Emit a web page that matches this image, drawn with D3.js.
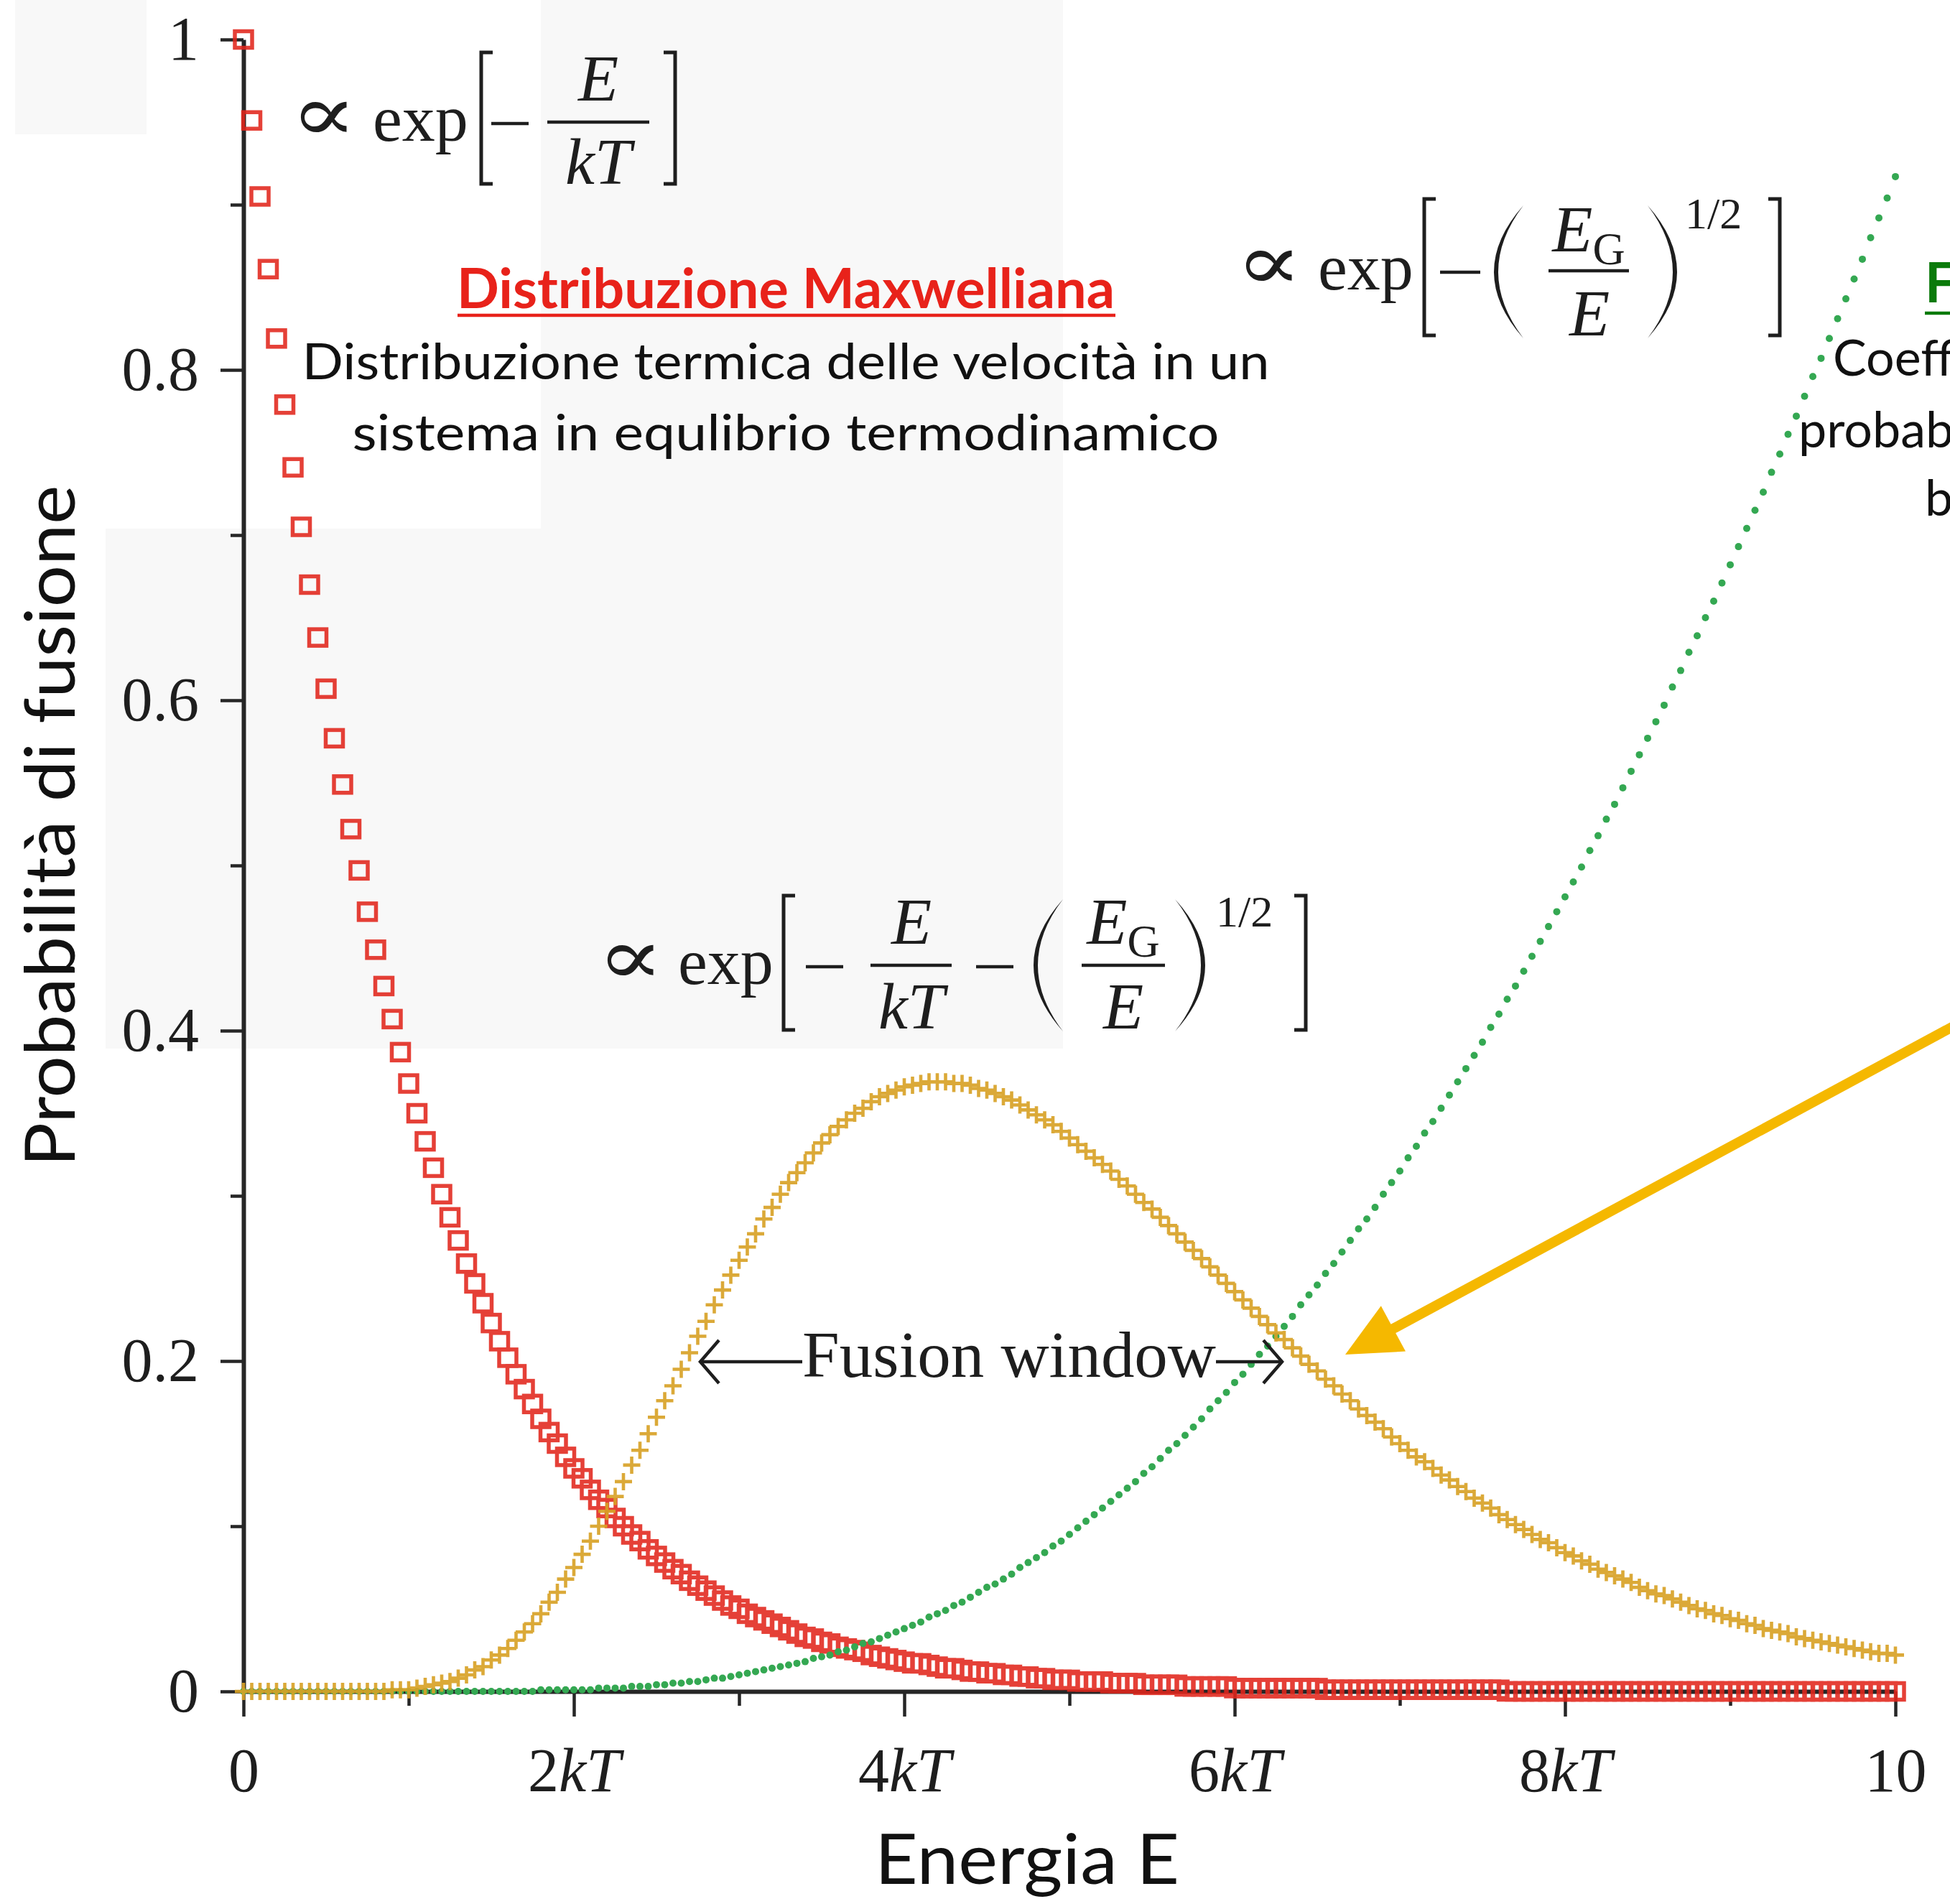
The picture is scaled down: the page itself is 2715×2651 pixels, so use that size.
<!DOCTYPE html>
<html>
<head>
<meta charset="utf-8">
<script src="https://cdn.jsdelivr.net/npm/d3@7"></script>
<style>
  html, body { margin: 0; padding: 0; background: #ffffff; overflow: hidden; }
  svg { display: block; }
</style>
</head>
<body>
<svg id="chart" width="2715" height="2651"></svg>
<script>
// Energy samples, in units of kT
const energy = [
  0,0.05,0.1,0.15,0.2,0.25,0.3,0.35,0.4,0.45,
  0.5,0.55,0.6,0.65,0.7,0.75,0.8,0.85,0.9,0.95,
  1,1.05,1.1,1.15,1.2,1.25,1.3,1.35,1.4,1.45,
  1.5,1.55,1.6,1.65,1.7,1.75,1.8,1.85,1.9,1.95,
  2,2.05,2.1,2.15,2.2,2.25,2.3,2.35,2.4,2.45,
  2.5,2.55,2.6,2.65,2.7,2.75,2.8,2.85,2.9,2.95,
  3,3.05,3.1,3.15,3.2,3.25,3.3,3.35,3.4,3.45,
  3.5,3.55,3.6,3.65,3.7,3.75,3.8,3.85,3.9,3.95,
  4,4.05,4.1,4.15,4.2,4.25,4.3,4.35,4.4,4.45,
  4.5,4.55,4.6,4.65,4.7,4.75,4.8,4.85,4.9,4.95,
  5,5.05,5.1,5.15,5.2,5.25,5.3,5.35,5.4,5.45,
  5.5,5.55,5.6,5.65,5.7,5.75,5.8,5.85,5.9,5.95,
  6,6.05,6.1,6.15,6.2,6.25,6.3,6.35,6.4,6.45,
  6.5,6.55,6.6,6.65,6.7,6.75,6.8,6.85,6.9,6.95,
  7,7.05,7.1,7.15,7.2,7.25,7.3,7.35,7.4,7.45,
  7.5,7.55,7.6,7.65,7.7,7.75,7.8,7.85,7.9,7.95,
  8,8.05,8.1,8.15,8.2,8.25,8.3,8.35,8.4,8.45,
  8.5,8.55,8.6,8.65,8.7,8.75,8.8,8.85,8.9,8.95,
  9,9.05,9.1,9.15,9.2,9.25,9.3,9.35,9.4,9.45,
  9.5,9.55,9.6,9.65,9.7,9.75,9.8,9.85,9.9,9.95,
  10
];

// Maxwellian factor (red squares)
const maxwell = [
  1,0.951,0.905,0.861,0.819,0.779,0.741,0.705,0.670,0.638,
  0.607,0.577,0.549,0.522,0.497,0.472,0.449,0.427,0.407,0.387,
  0.368,0.350,0.333,0.317,0.301,0.287,0.273,0.259,0.247,0.235,
  0.223,0.212,0.202,0.192,0.183,0.174,0.165,0.157,0.150,0.142,
  0.135,0.129,0.122,0.116,0.111,0.105,0.100,0.095,0.091,0.086,
  0.082,0.078,0.074,0.071,0.067,0.064,0.061,0.058,0.055,0.052,
  0.050,0.047,0.045,0.043,0.041,0.039,0.037,0.035,0.033,0.032,
  0.030,0.029,0.027,0.026,0.025,0.024,0.022,0.021,0.020,0.019,
  0.018,0.017,0.017,0.016,0.015,0.014,0.014,0.013,0.012,0.012,
  0.011,0.011,0.010,0.010,0.009,0.009,0.008,0.008,0.007,0.007,
  0.007,0.006,0.006,0.006,0.006,0.005,0.005,0.005,0.005,0.004,
  0.004,0.004,0.004,0.004,0.003,0.003,0.003,0.003,0.003,0.003,
  0.002,0.002,0.002,0.002,0.002,0.002,0.002,0.002,0.002,0.002,
  0.002,0.001,0.001,0.001,0.001,0.001,0.001,0.001,0.001,0.001,
  0.001,0.001,0.001,0.001,0.001,0.001,0.001,0.001,0.001,0.001,
  0.001,0.001,0.001,0,0,0,0,0,0,0,
  0,0,0,0,0,0,0,0,0,0,
  0,0,0,0,0,0,0,0,0,0,
  0,0,0,0,0,0,0,0,0,0,
  0,0,0,0,0,0,0,0,0,0,
  0
];

// Barrier penetration factor (green dots)
const tunneling = [
  0,0,0,0,0,0,0,0,0,0,
  0,0,0,0,0,0,0,0,0,0,
  0,0,0,0,0,0,0,0,0,0,
  0,0,0,0,0,0,0.001,0.001,0.001,0.001,
  0.001,0.001,0.001,0.002,0.002,0.002,0.002,0.003,0.003,0.003,
  0.004,0.004,0.005,0.005,0.006,0.006,0.007,0.008,0.008,0.009,
  0.010,0.011,0.012,0.013,0.014,0.015,0.016,0.017,0.018,0.020,
  0.021,0.022,0.024,0.025,0.027,0.029,0.030,0.032,0.034,0.036,
  0.038,0.040,0.042,0.045,0.047,0.049,0.052,0.054,0.057,0.060,
  0.063,0.065,0.068,0.071,0.075,0.078,0.081,0.084,0.088,0.091,
  0.095,0.099,0.103,0.107,0.111,0.115,0.119,0.123,0.127,0.132,
  0.136,0.141,0.146,0.150,0.155,0.160,0.165,0.171,0.176,0.181,
  0.187,0.192,0.198,0.204,0.209,0.215,0.221,0.227,0.234,0.240,
  0.246,0.253,0.259,0.266,0.273,0.280,0.286,0.293,0.301,0.308,
  0.315,0.323,0.330,0.338,0.345,0.353,0.361,0.369,0.377,0.385,
  0.393,0.402,0.410,0.419,0.427,0.436,0.445,0.454,0.463,0.472,
  0.481,0.490,0.499,0.509,0.518,0.528,0.537,0.547,0.557,0.567,
  0.577,0.587,0.597,0.608,0.618,0.629,0.639,0.650,0.660,0.671,
  0.682,0.693,0.704,0.715,0.726,0.738,0.749,0.761,0.772,0.784,
  0.796,0.807,0.819,0.831,0.843,0.855,0.867,0.880,0.892,0.904,
  0.917
];

// Product of the two factors: the Gamow peak (yellow crosses)
const fusion = [
  0,0,0,0,0,0,0,0,0,0,
  0,0,0,0,0,0,0,0,0.001,0.001,
  0.001,0.002,0.003,0.004,0.005,0.006,0.008,0.010,0.013,0.015,
  0.019,0.022,0.026,0.031,0.036,0.041,0.047,0.054,0.060,0.068,
  0.075,0.083,0.091,0.100,0.109,0.118,0.127,0.137,0.146,0.156,
  0.166,0.176,0.185,0.195,0.205,0.215,0.224,0.234,0.243,0.252,
  0.261,0.269,0.277,0.286,0.293,0.301,0.308,0.314,0.320,0.326,
  0.332,0.337,0.342,0.346,0.350,0.353,0.357,0.360,0.362,0.364,
  0.366,0.367,0.368,0.369,0.369,0.369,0.368,0.368,0.367,0.365,
  0.364,0.362,0.360,0.358,0.355,0.352,0.349,0.346,0.343,0.339,
  0.335,0.331,0.327,0.323,0.319,0.315,0.310,0.306,0.301,0.296,
  0.292,0.287,0.282,0.277,0.272,0.267,0.262,0.257,0.252,0.247,
  0.242,0.237,0.232,0.227,0.222,0.217,0.213,0.208,0.203,0.198,
  0.194,0.189,0.185,0.180,0.176,0.171,0.167,0.163,0.159,0.154,
  0.150,0.146,0.142,0.139,0.135,0.131,0.128,0.124,0.121,0.117,
  0.114,0.111,0.107,0.104,0.101,0.098,0.095,0.092,0.090,0.087,
  0.084,0.082,0.079,0.077,0.074,0.072,0.070,0.068,0.066,0.063,
  0.061,0.059,0.058,0.056,0.054,0.052,0.050,0.049,0.047,0.046,
  0.044,0.043,0.041,0.040,0.038,0.037,0.036,0.035,0.033,0.032,
  0.031,0.030,0.029,0.028,0.027,0.026,0.025,0.024,0.023,0.023,
  0.022
];

// Axis ticks and labels
const xMajorTicks = [0, 2, 4, 6, 8, 10];
const xMinorTicks = [1, 3, 5, 7, 9];
const xTickLabels = ["0", "2kT", "4kT", "6kT", "8kT", "10"];
const yMajorTicks = [0, 0.2, 0.4, 0.6, 0.8, 1];
const yMinorTicks = [0.1, 0.3, 0.5, 0.7, 0.9];
const yTickLabels = ["0", "0.2", "0.4", "0.6", "0.8", "1"];

const SERIF = "'Liberation Serif', 'DejaVu Serif', serif";
const SANS = "Lato, 'Open Sans', 'Noto Sans', sans-serif";
const INK = "#1e1e1e";

const svg = d3.select("#chart");

// very light panels behind the upper part of the figure
const panels = svg.append("g").attr("fill", "#f8f8f8");
panels.append("rect").attr("x", 753).attr("y", 0).attr("width", 727).attr("height", 1460);
panels.append("rect").attr("x", 147).attr("y", 736).attr("width", 606).attr("height", 724);
panels.append("rect").attr("x", 21).attr("y", 0).attr("width", 183).attr("height", 187);

const x = d3.scaleLinear().domain([0, 10]).range([339, 2639]);
const y = d3.scaleLinear().domain([0, 1]).range([2355, 55]);

// ----- axes -----
const axes = svg.append("g")
  .attr("font-family", SERIF);

const yMajor = axes.append("g")
  .attr("transform", `translate(${x(0)},0)`)
  .call(d3.axisLeft(y).tickValues(yMajorTicks).tickSize(32).tickSizeOuter(0)
        .tickPadding(30).tickFormat((d, i) => yTickLabels[i]));
const yMinor = axes.append("g")
  .attr("transform", `translate(${x(0)},0)`)
  .call(d3.axisLeft(y).tickValues(yMinorTicks).tickSize(18).tickSizeOuter(0).tickFormat(""));
yMinor.select(".domain").remove();

const xMajor = axes.append("g")
  .attr("transform", `translate(0,${y(0)})`)
  .call(d3.axisBottom(x).tickValues(xMajorTicks).tickSize(35).tickSizeOuter(0)
        .tickPadding(43).tickFormat((d, i) => xTickLabels[i]));
const xMinor = axes.append("g")
  .attr("transform", `translate(0,${y(0)})`)
  .call(d3.axisBottom(x).tickValues(xMinorTicks).tickSize(20).tickSizeOuter(0).tickFormat(""));
xMinor.select(".domain").remove();

axes.selectAll(".domain").attr("stroke", "#262626").attr("stroke-width", 6);
axes.selectAll(".tick line").attr("stroke", "#262626").attr("stroke-width", 4.5);
axes.selectAll(".tick text")
  .attr("font-size", 86).attr("fill", INK).attr("font-family", SERIF);

// italic kT in the energy tick labels
xMajor.selectAll(".tick text").each(function(d, i) {
  const t = d3.select(this);
  const m = xTickLabels[i].match(/^(\d+)(kT)?$/);
  t.text(null);
  t.append("tspan").text(m[1]);
  if (m[2]) t.append("tspan").attr("font-style", "italic").text(m[2]);
});

// ----- data series -----
const marks = svg.append("g");
const idx = d3.range(energy.length);

// red squares
marks.append("g")
  .attr("fill", "none").attr("stroke", "#e2261c").attr("stroke-width", 5.5).attr("opacity", 0.88)
  .selectAll("rect").data(idx).join("rect")
  .attr("x", i => x(energy[i]) - 12)
  .attr("y", i => y(maxwell[i]) - 11.5)
  .attr("width", 24).attr("height", 23);

// green dots
marks.append("g")
  .attr("fill", "#34a852")
  .selectAll("circle").data(idx).join("circle")
  .attr("cx", i => x(energy[i]))
  .attr("cy", i => y(tunneling[i]))
  .attr("r", 5);

// yellow crosses
marks.append("g")
  .attr("stroke", "#d8a227").attr("stroke-width", 4.6).attr("fill", "none").attr("opacity", 0.92)
  .selectAll("path").data(idx).join("path")
  .attr("transform", i => `translate(${x(energy[i])},${y(fusion[i])})`)
  .attr("d", "M-12,0H12M0,-12V12");

// ----- formula helpers -----
const fx = svg.append("g").attr("font-family", SERIF).attr("fill", INK);

function word(g, str, px, py, size, opt = {}) {
  return g.append("text")
    .attr("x", px).attr("y", py)
    .attr("font-size", size)
    .attr("font-style", opt.italic ? "italic" : "normal")
    .attr("text-anchor", opt.anchor || "start")
    .text(str);
}
function propto(g, px, py) {
  // proportionality sign, widened to sit at the size of the surrounding math
  g.append("text")
    .attr("transform", `translate(${px},${py}) scale(1.5,1.2)`)
    .attr("font-size", 92)
    .text("\u221D");
}
function hline(g, x1, x2, yy, w = 4.5) {
  g.append("line").attr("x1", x1).attr("x2", x2).attr("y1", yy).attr("y2", yy)
    .attr("stroke", INK).attr("stroke-width", w);
}
function bracket(g, xv, top, bot, w, side) {
  const s = side === "left" ? 1 : -1;
  g.append("path")
    .attr("d", `M${xv + s * w},${top}H${xv}V${bot}H${xv + s * w}`)
    .attr("fill", "none").attr("stroke", INK).attr("stroke-width", 5);
}
function paren(g, xOuter, xEnd, top, bot) {
  // crescent-shaped parenthesis: bulge reaches xOuter, tips at xEnd
  const mid = (top + bot) / 2;
  const cOut = 2 * xOuter - xEnd;
  const inner = xOuter + (xEnd > xOuter ? 6 : -6);
  const cIn = 2 * inner - xEnd;
  g.append("path")
    .attr("d", `M${xEnd},${top}Q${cOut},${mid} ${xEnd},${bot}Q${cIn},${mid} ${xEnd},${top}Z`)
    .attr("fill", INK);
}
function subE(g, cx, base, size) {
  const t = g.append("text").attr("x", cx).attr("y", base).attr("font-size", size)
    .attr("text-anchor", "middle");
  t.append("tspan").attr("font-style", "italic").text("E");
  t.append("tspan").attr("font-size", size * 0.68).attr("dy", size * 0.2).text("G");
}

const FS = 92;

// exp[-E/kT]
propto(fx, 404, 196);
word(fx, "exp", 519, 196, FS);
bracket(fx, 670, 73, 256, 16, "left");
hline(fx, 684, 736, 172);
hline(fx, 762, 904, 170);
word(fx, "E", 833, 140, FS, { italic: true, anchor: "middle" });
word(fx, "kT", 833, 256, FS, { italic: true, anchor: "middle" });
bracket(fx, 940, 73, 256, 16, "right");

// exp[-(E_G/E)^(1/2)]
propto(fx, 1720, 403);
word(fx, "exp", 1835, 403, FS);
bracket(fx, 1983, 277, 467, 16, "left");
hline(fx, 2005, 2061, 379);
paren(fx, 2080, 2121, 286, 471);
hline(fx, 2156, 2268, 377);
subE(fx, 2212, 350, FS);
word(fx, "E", 2213, 467, FS, { italic: true, anchor: "middle" });
paren(fx, 2335, 2294, 286, 471);
word(fx, "1/2", 2346, 318, 62);
bracket(fx, 2478, 277, 467, 16, "right");

// exp[-E/kT - (E_G/E)^(1/2)]
propto(fx, 831, 1370);
word(fx, "exp", 944, 1370, FS);
bracket(fx, 1091, 1247, 1434, 16, "left");
hline(fx, 1122, 1174, 1346);
hline(fx, 1212, 1325, 1344);
word(fx, "E", 1269, 1314, FS, { italic: true, anchor: "middle" });
word(fx, "kT", 1269, 1432, FS, { italic: true, anchor: "middle" });
hline(fx, 1359, 1411, 1346);
paren(fx, 1439, 1480, 1252, 1436);
hline(fx, 1506, 1622, 1344);
subE(fx, 1564, 1314, FS);
word(fx, "E", 1564, 1432, FS, { italic: true, anchor: "middle" });
paren(fx, 1678, 1636, 1252, 1436);
word(fx, "1/2", 1693, 1290, 62);
bracket(fx, 1818, 1247, 1434, 16, "right");

// Fusion window annotation
const fw = svg.append("g").attr("stroke", INK).attr("stroke-width", 4.5).attr("fill", "none");
fw.append("line").attr("x1", 977).attr("x2", 1117).attr("y1", 1896).attr("y2", 1896);
fw.append("path").attr("d", "M1001,1866L975,1896L1001,1926");
fw.append("line").attr("x1", 1693).attr("x2", 1783).attr("y1", 1896).attr("y2", 1896);
fw.append("path").attr("d", "M1759,1866L1785,1896L1759,1926");
fx.append("text").attr("x", 1117).attr("y", 1917).attr("font-size", 92)
  .attr("textLength", 576).attr("lengthAdjust", "spacingAndGlyphs").text("Fusion window");

// ----- descriptive text -----
const tx = svg.append("g").attr("font-family", SANS);

tx.append("text").attr("x", 1094).attr("y", 429).attr("text-anchor", "middle")
  .attr("font-size", 76).attr("font-weight", 700).attr("fill", "#e8221a")
  .attr("textLength", 916).attr("lengthAdjust", "spacingAndGlyphs")
  .text("Distribuzione Maxwelliana");
tx.append("line").attr("x1", 637).attr("x2", 1553).attr("y1", 439).attr("y2", 439)
  .attr("stroke", "#e8221a").attr("stroke-width", 4.5);
tx.append("text").attr("x", 1094).attr("y", 528).attr("text-anchor", "middle")
  .attr("font-size", 70).attr("fill", "#111")
  .attr("textLength", 1347).attr("lengthAdjust", "spacingAndGlyphs")
  .text("Distribuzione termica delle velocità in un");
tx.append("text").attr("x", 1094).attr("y", 627).attr("text-anchor", "middle")
  .attr("font-size", 70).attr("fill", "#111")
  .attr("textLength", 1207).attr("lengthAdjust", "spacingAndGlyphs")
  .text("sistema in equlibrio termodinamico");

// right-hand block, running past the edge
tx.append("text").attr("x", 2680).attr("y", 421)
  .attr("font-size", 76).attr("font-weight", 700).attr("fill", "#0b7a0b")
  .text("Fattore di Gamow");
tx.append("line").attr("x1", 2680).attr("x2", 2760).attr("y1", 436).attr("y2", 436)
  .attr("stroke", "#0b7a0b").attr("stroke-width", 4.5);
tx.append("text").attr("x", 2552).attr("y", 523).attr("font-size", 70).attr("fill", "#111")
  .text("Coefficiente di trasmissione:");
tx.append("text").attr("x", 2504).attr("y", 623).attr("font-size", 70).attr("fill", "#111")
  .text("probabilità di attraversare la");
tx.append("text").attr("x", 2680).attr("y", 718).attr("font-size", 70).attr("fill", "#111")
  .text("barriera coulombiana");

// axis titles
tx.append("text").attr("x", 1430).attr("y", 2623).attr("text-anchor", "middle")
  .attr("font-size", 96).attr("fill", "#111")
  .attr("textLength", 424).attr("lengthAdjust", "spacingAndGlyphs")
  .text("Energia E");
tx.append("text").attr("transform", "translate(104,1150) rotate(-90)")
  .attr("text-anchor", "middle").attr("font-size", 96).attr("fill", "#111")
  .attr("textLength", 949).attr("lengthAdjust", "spacingAndGlyphs")
  .text("Probabilità di fusione");

// yellow pointer towards the crossing of the curves
const tip = [1873, 1886];
const tail = [2740, 1418];
const dx = tail[0] - tip[0], dy = tail[1] - tip[1];
const len = Math.hypot(dx, dy);
const ux = dx / len, uy = dy / len, nx = -uy, ny = ux;
const headL = 76, headW = 36;
const bx = tip[0] + ux * headL, by = tip[1] + uy * headL;
const ptr = svg.append("g").attr("fill", "#f5b800").attr("stroke", "#f5b800");
ptr.append("line")
  .attr("x1", tip[0] + ux * (headL - 6)).attr("y1", tip[1] + uy * (headL - 6))
  .attr("x2", tail[0]).attr("y2", tail[1])
  .attr("stroke-width", 14);
ptr.append("path").attr("stroke", "none")
  .attr("d", `M${tip[0]},${tip[1]}L${bx + nx * headW},${by + ny * headW}L${bx - nx * headW},${by - ny * headW}Z`);
</script>
</body>
</html>
